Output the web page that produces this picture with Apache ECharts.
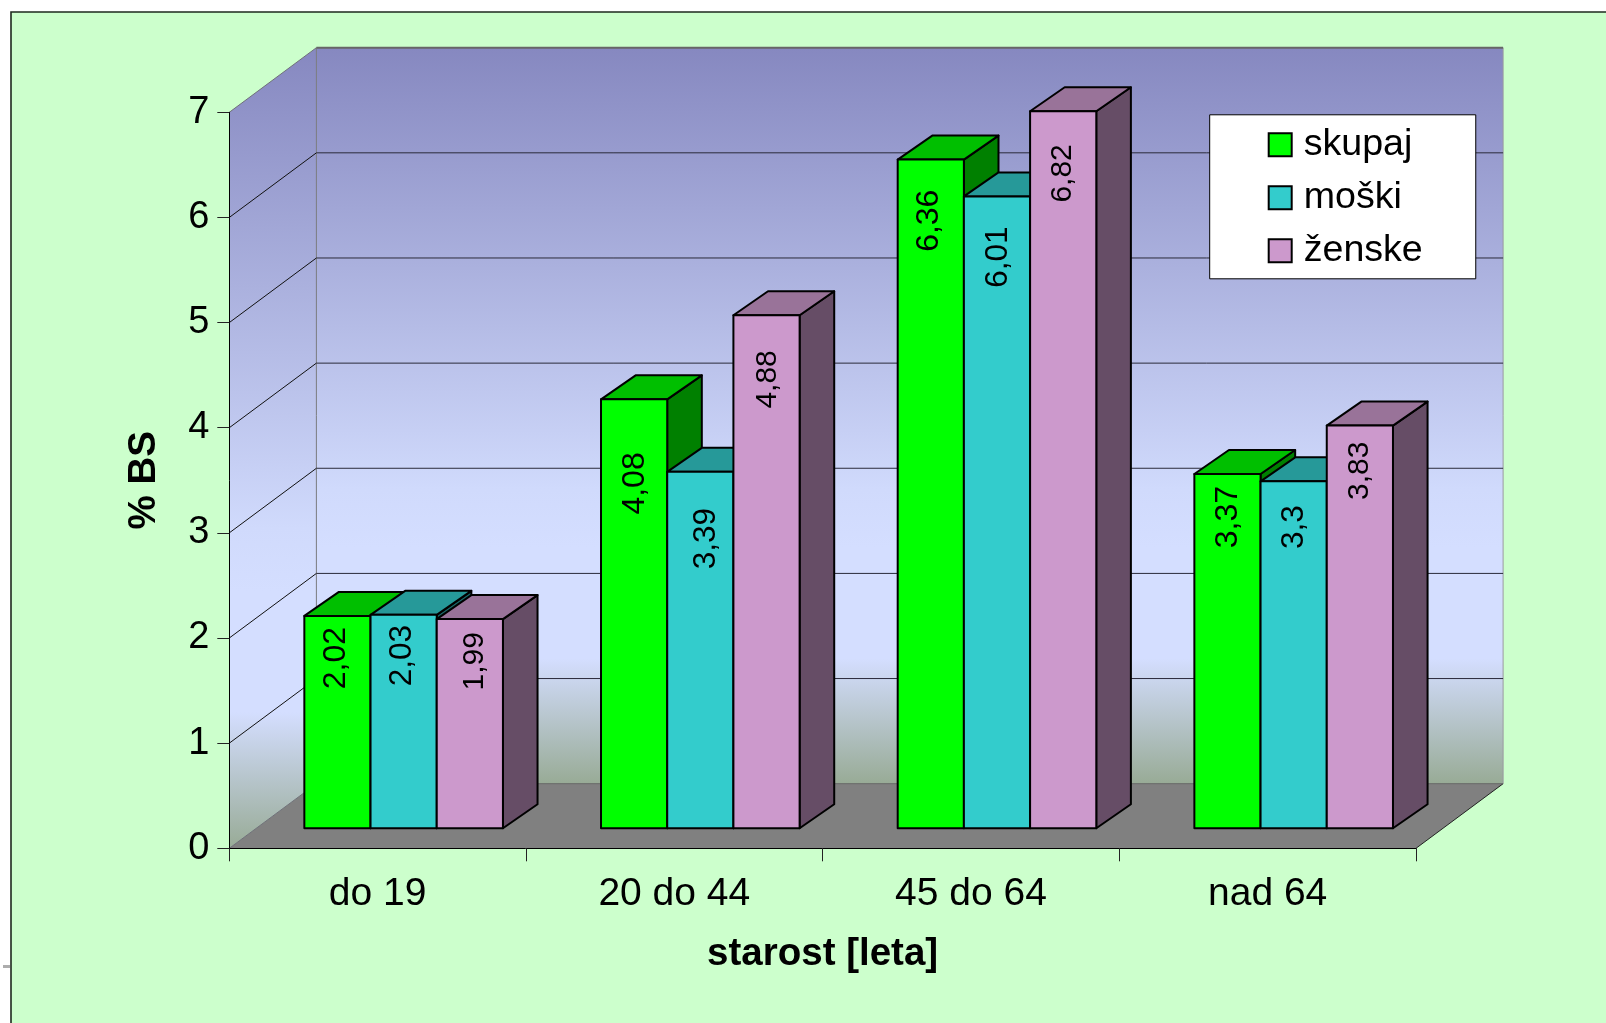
<!DOCTYPE html>
<html>
<head>
<meta charset="utf-8">
<style>html,body{margin:0;padding:0;background:#fff;overflow:hidden}#chart{width:1606px;height:1023px}</style>
<script src="https://cdn.jsdelivr.net/npm/echarts@6/dist/echarts.min.js"></script>
</head>
<body>
<div id="chart"></div>
<script>
// Percentage of BS by age group
const categories = ['do 19', '20 do 44', '45 do 64', 'nad 64'];
const yTicks = [0, 1, 2, 3, 4, 5, 6, 7];
const seriesNames = ['skupaj', 'moški', 'ženske'];
const skupaj = [2.02, 4.08, 6.36, 3.37];
const moski = [2.03, 3.39, 6.01, 3.3];
const zenske = [1.99, 4.88, 6.82, 3.83];

// Distance in pixels from a bar's top edge down to its rotated value label
const labelDropSkupaj = [11, 53, 30, 12];
const labelDropMoski = [10, 36, 30, 24];
const labelDropZenske = [13, 35, 33, 16];

// Sideways nudge of each rotated value label from the middle of its bar
const labelShiftSkupaj = [-1.5, 1, -1.5, 1];
const labelShiftMoski = [-1.5, 6, 1, 1];
const labelShiftZenske = [4.5, 1, -0.5, -0.5];

const labelSizes = [32, 31.5, 30];

const FONT = '"Liberation Sans", Arial, sans-serif';
const faces = [
  { front: '#00FF00', top: '#00BF00', side: '#008000' },
  { front: '#33CCCC', top: '#269999', side: '#1A6666' },
  { front: '#CC99CC', top: '#997399', side: '#664D66' }
];

// Oblique projection: how far the depth axis runs across and up the screen
const WALL_DX = 87.1, WALL_DY = 64.6;
const BAR_FRONT_DY = 20, BAR_DX = 34.6, BAR_DY = 24;
const BAR_W = 66.2, GROUP_SHIFT = 26;

const wallFill = {
  type: 'linear', x: 0, y: 0, x2: 0, y2: 1,
  colorStops: [
    { offset: 0, color: '#8688C0' },
    { offset: 0.6, color: '#D0DAFC' },
    { offset: 0.68, color: '#D4DEFF' },
    { offset: 0.83, color: '#D4DEFF' },
    { offset: 1, color: '#98AB96' }
  ]
};

function renderWalls(params, api) {
  const v = api.value(0);
  const y = api.coord([0, v])[1];
  const left = api.coord([0, 0])[0] - api.size([1, 0])[0] / 2;
  const right = left + api.size([1, 0])[0] * categories.length;
  const backL = left + WALL_DX, backR = right + WALL_DX;
  const children = [];
  if (v === 0) {
    const yTop = api.coord([0, yTicks[yTicks.length - 1]])[1];
    children.push(
      { type: 'polygon', shape: { points: [[backL, yTop - WALL_DY], [backR, yTop - WALL_DY], [backR, y - WALL_DY], [backL, y - WALL_DY]] }, style: { fill: wallFill } },
      { type: 'polygon', shape: { points: [[left, yTop], [backL, yTop - WALL_DY], [backL, y - WALL_DY], [left, y]] }, style: { fill: wallFill } },
      { type: 'polygon', shape: { points: [[left, y], [right, y], [backR, y - WALL_DY], [backL, y - WALL_DY]] }, style: { fill: '#808080' } },
      { type: 'line', shape: { x1: backL, y1: yTop - WALL_DY, x2: backL, y2: y - WALL_DY }, style: { stroke: '#7A7A80', lineWidth: 1 } },
      { type: 'line', shape: { x1: backR, y1: yTop - WALL_DY, x2: backR, y2: y - WALL_DY }, style: { stroke: '#9A9AA0', lineWidth: 1 } },
      { type: 'line', shape: { x1: right, y1: y, x2: backR, y2: y - WALL_DY }, style: { stroke: '#222', lineWidth: 1 } }
    );
  }
  const edge = v === 0 || v === yTicks[yTicks.length - 1];
  const lineColor = edge ? '#666' : '#2A2A3A';
  children.push(
    { type: 'line', shape: { x1: left, y1: y, x2: backL, y2: y - WALL_DY }, style: { stroke: edge ? '#70707A' : '#111', lineWidth: 1 } },
    { type: 'line', shape: { x1: backL, y1: y - WALL_DY, x2: backR, y2: y - WALL_DY }, style: { stroke: lineColor, lineWidth: v === 7 ? 2 : 1 } }
  );
  return { type: 'group', children };
}

function makeBarRenderer(seriesIndex, drops, shifts) {
  return function (params, api) {
    const cat = api.value(0), value = api.value(1);
    const center = api.coord([cat, value])[0];
    const top = api.coord([cat, value])[1] - BAR_FRONT_DY;
    const base = api.coord([cat, 0])[1] - BAR_FRONT_DY;
    const xL = center + GROUP_SHIFT - 1.5 * BAR_W + seriesIndex * BAR_W;
    const xR = xL + BAR_W;
    const c = faces[seriesIndex];
    const outline = { stroke: '#000', lineWidth: 2, lineJoin: 'round' };
    const text = String(value).replace('.', ',');
    return {
      type: 'group',
      children: [
        { type: 'polygon', shape: { points: [[xR, top], [xR + BAR_DX, top - BAR_DY], [xR + BAR_DX, base - BAR_DY], [xR, base]] }, style: Object.assign({ fill: c.side }, outline) },
        { type: 'polygon', shape: { points: [[xL, top], [xL + BAR_DX, top - BAR_DY], [xR + BAR_DX, top - BAR_DY], [xR, top]] }, style: Object.assign({ fill: c.top }, outline) },
        { type: 'rect', shape: { x: xL, y: top, width: BAR_W, height: base - top }, style: Object.assign({ fill: c.front }, outline) },
        {
          type: 'text', x: (xL + xR) / 2 + shifts[params.dataIndex], y: top + drops[params.dataIndex], rotation: Math.PI / 2, z2: 5,
          style: { text, fill: '#000', font: labelSizes[seriesIndex] + 'px ' + FONT, textAlign: 'right', textVerticalAlign: 'middle' }
        }
      ]
    };
  };
}

function barSeries(i, values, drops, shifts) {
  return {
    name: seriesNames[i],
    type: 'custom',
    z: 2,
    silent: true,
    clip: false,
    itemStyle: { color: faces[i].front, borderColor: '#000', borderWidth: 2 },
    encode: { x: 0, y: 1 },
    data: values.map((v, k) => [k, v]),
    renderItem: makeBarRenderer(i, drops, shifts)
  };
}

const chart = echarts.init(document.getElementById('chart'), null, { renderer: 'canvas' });
chart.setOption({
  animation: false,
  backgroundColor: '#fff',
  textStyle: { fontFamily: FONT, color: '#000' },
  graphic: {
    elements: [
      {
        type: 'rect', z: -10, silent: true,
        shape: { x: 11, y: 12, width: 1700, height: 1100 },
        style: { fill: '#CCFFCC', stroke: '#1E2A1E', lineWidth: 1.6 }
      },
      {
        type: 'rect', z: -10, silent: true,
        shape: { x: 3, y: 965, width: 7, height: 3 },
        style: { fill: '#8A8A8A', opacity: 0.7 }
      }
    ]
  },
  grid: { left: 229.3, top: 112.3, width: 1186.7, height: 736, containLabel: false },
  legend: {
    data: seriesNames,
    orient: 'vertical',
    left: 1209.7,
    top: 114.8,
    z: 20,
    icon: 'rect',
    align: 'left',
    itemWidth: 23,
    itemHeight: 23,
    itemGap: 15,
    padding: [11, 53, 9, 58],
    backgroundColor: '#fff',
    borderColor: '#000',
    borderWidth: 1,
    borderRadius: 0,
    selectedMode: false,
    textStyle: { fontSize: 37.6, fontFamily: FONT, color: '#000', padding: [0, 0, 0, 7] }
  },
  xAxis: {
    type: 'category',
    data: categories,
    z: 10,
    boundaryGap: true,
    axisLine: { onZero: false, lineStyle: { color: '#000', width: 1 } },
    axisTick: { show: true, alignWithLabel: false, length: 13, lineStyle: { color: '#222', width: 1 } },
    axisLabel: { fontSize: 39, fontFamily: FONT, color: '#000', margin: 26 },
    splitLine: { show: false },
    name: 'starost [leta]',
    nameLocation: 'middle',
    nameGap: 87,
    nameTextStyle: { fontSize: 38.5, fontWeight: 'bold', fontFamily: FONT, color: '#000' }
  },
  yAxis: {
    type: 'value',
    min: 0,
    max: 7,
    interval: 1,
    z: 10,
    axisLine: { show: true, lineStyle: { color: '#000', width: 1 } },
    axisTick: { show: true, length: 12, lineStyle: { color: '#222', width: 1 } },
    axisLabel: { fontSize: 38, fontFamily: FONT, color: '#000', margin: 20, padding: [6, 0, 0, 0] },
    splitLine: { show: false },
    name: '% BS',
    nameLocation: 'middle',
    nameRotate: 90,
    nameGap: 65,
    nameTextStyle: { fontSize: 38.5, fontWeight: 'bold', fontFamily: FONT, color: '#000' }
  },
  series: [
    {
      name: 'plot walls',
      type: 'custom',
      z: 1,
      silent: true,
      clip: false,
      encode: { y: 0 },
      data: yTicks.map(v => [v]),
      renderItem: renderWalls
    },
    barSeries(0, skupaj, labelDropSkupaj, labelShiftSkupaj),
    barSeries(1, moski, labelDropMoski, labelShiftMoski),
    barSeries(2, zenske, labelDropZenske, labelShiftZenske)
  ]
});
</script>
</body>
</html>
